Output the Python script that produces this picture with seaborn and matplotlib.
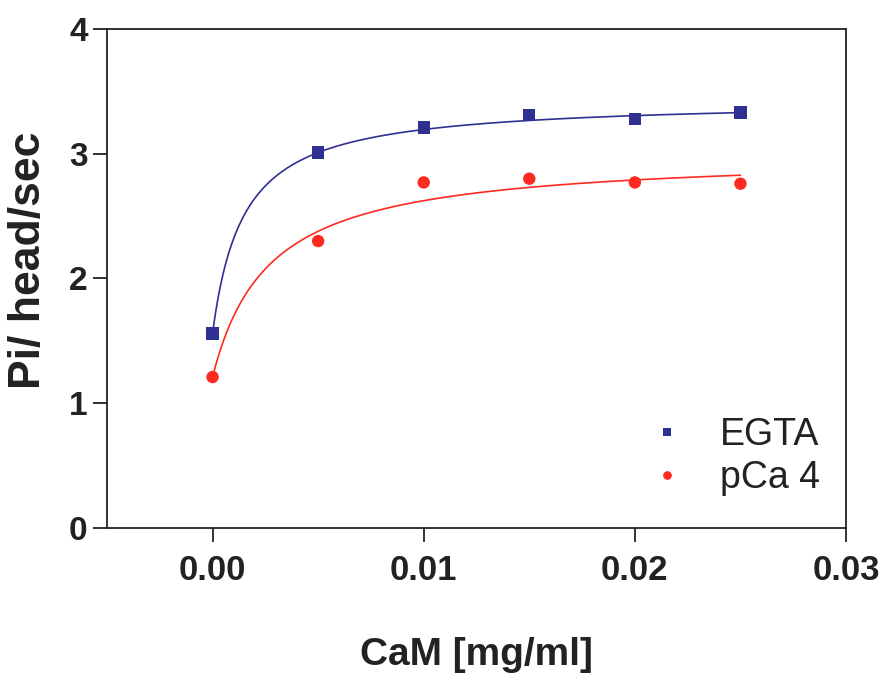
import numpy as np
import pandas as pd
import matplotlib
matplotlib.use("Agg")
import matplotlib.pyplot as plt
import seaborn as sns

# ---- data ----
cam = [0.0, 0.005, 0.010, 0.015, 0.020, 0.025]
egta = [1.56, 3.01, 3.21, 3.31, 3.28, 3.33]
pca4 = [1.21, 2.30, 2.77, 2.80, 2.77, 2.76]
series_names = ["EGTA", "pCa 4"]

# hyperbolic fit parameters (y0, Bmax, Kd) estimated from the drawn curves
fit_egta = (1.56, 1.873, 0.00146)
fit_pca4 = (1.21, 1.79, 0.00266)

x_ticks = [0.00, 0.01, 0.02, 0.03]
x_tick_labels = ["0.00", "0.01", "0.02", "0.03"]
y_ticks = [0, 1, 2, 3, 4]

sns.set_style("ticks")
plt.rcParams["font.family"] = ["Liberation Sans", "DejaVu Sans"]

blue = "#2e3192"
red = "#ff2a1f"
ink = "#222222"

pts = pd.DataFrame({
    "CaM": cam * 2,
    "rate": egta + pca4,
    "cond": [series_names[0]] * len(cam) + [series_names[1]] * len(cam),
})

xf = np.linspace(0.0, 0.025, 300)
def hyper(x, p):
    y0, b, k = p
    return y0 + b * x / (k + x)

fits = pd.DataFrame({
    "CaM": np.concatenate([xf, xf]),
    "rate": np.concatenate([hyper(xf, fit_egta), hyper(xf, fit_pca4)]),
    "cond": [series_names[0]] * len(xf) + [series_names[1]] * len(xf),
})

fig = plt.figure(figsize=(8.82, 6.79), dpi=100)
ax = fig.add_axes([0.1213, 0.2224, 0.9592 - 0.1213, 0.9573 - 0.2224])

palette = {series_names[0]: blue, series_names[1]: red}
sns.lineplot(data=fits, x="CaM", y="rate", hue="cond", palette=palette,
             linewidth=1.2, legend=False, ax=ax)
sns.scatterplot(data=pts, x="CaM", y="rate", hue="cond", style="cond",
                markers={series_names[0]: "s", series_names[1]: "o"},
                palette=palette, s=80, linewidth=0, ax=ax, zorder=3)

ax.set_xlim(-0.005, 0.03)
ax.set_ylim(0, 4)
ax.set_xticks(x_ticks)
ax.set_yticks(y_ticks)

for s in ax.spines.values():
    s.set_linewidth(1.3)
    s.set_color(ink)
ax.tick_params(axis="both", direction="out", length=10, width=1.3, colors=ink)
ax.tick_params(axis="y", labelsize=24, pad=4)
ax.tick_params(axis="x", pad=9)

ax.set_xticklabels(x_tick_labels, fontsize=25, fontweight="bold")
for lab in ax.get_yticklabels():
    lab.set_fontweight("bold")

ax.set_xlabel("CaM [mg/ml]", fontsize=28, fontweight="bold", labelpad=36, color=ink)
ax.set_ylabel("Pi/ head/sec", fontsize=32, fontweight="bold", color=ink)
ax.yaxis.set_label_coords(-0.079, 0.537)

h, l = ax.get_legend_handles_labels()
leg = ax.legend(h[-2:], l[-2:], loc="lower right", bbox_to_anchor=(1.0, 0.012),
                frameon=False, fontsize=27, markerscale=0.7,
                handletextpad=0.4, labelspacing=0.17, borderaxespad=0.3)
for t in leg.get_texts():
    t.set_color(ink)

fig.savefig("out.png", dpi=100)
